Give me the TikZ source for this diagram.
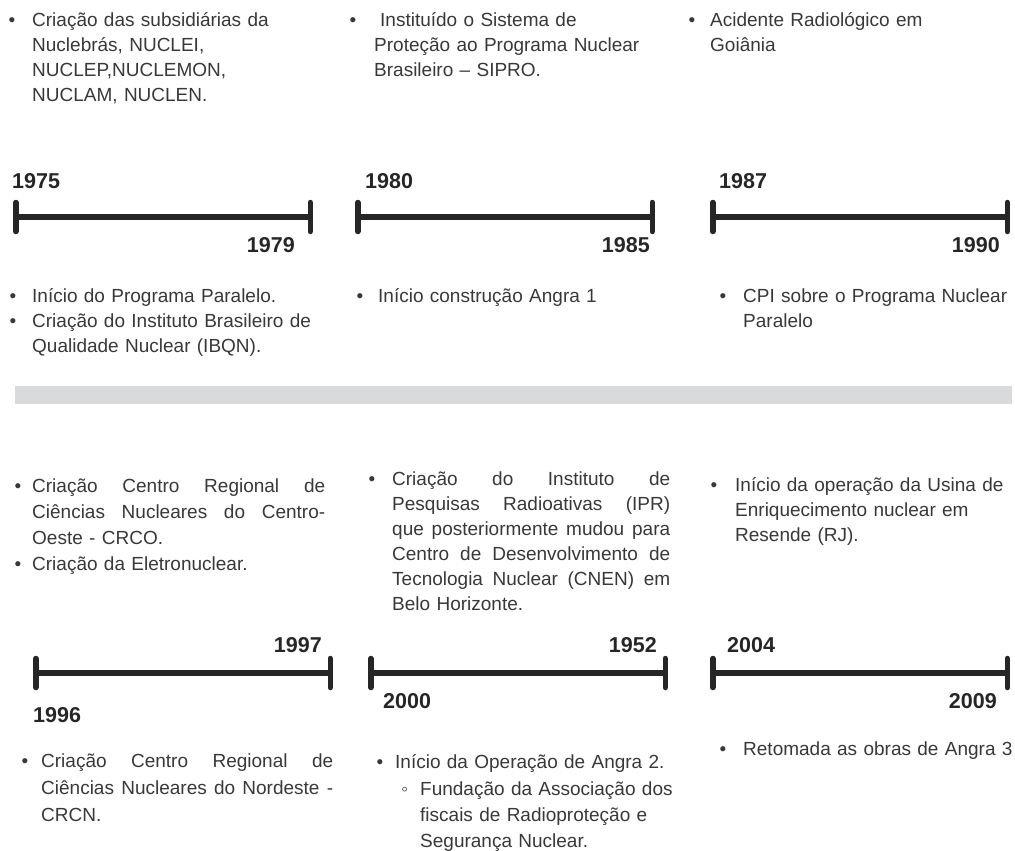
\documentclass[tikz,border=0pt]{standalone}
\usepackage{fontspec}
\setmainfont{Liberation Sans}
\usetikzlibrary{arrows.meta}
\definecolor{TextGray}{HTML}{383838}
\definecolor{YearBlack}{HTML}{262626}
\definecolor{BarGray}{HTML}{D9DADB}
\newcommand\bul[1]{\leavevmode\llap{\textbullet\hspace{#1}}}
\newcommand\subbul[1]{\leavevmode\llap{\char"25E6\hspace{#1}}}
\newcommand\jl[2]{{\spaceskip=0.278em plus 1fil\xspaceskip=\spaceskip\makebox[#1][s]{#2}}}
\tikzstyle{evt} = [anchor=base west, inner sep=0pt, text=TextGray, align=left, text width=320pt, font=\fontsize{19}{25}\selectfont]
\tikzstyle{yr} = [inner sep=0pt, text=YearBlack, font=\fontsize{21.5}{24}\selectfont\bfseries]
\tikzstyle{yl} = [yr, anchor=base west]
\tikzstyle{yrr} = [yr, anchor=base east]
\tikzstyle{tl} = [line width=5.5pt, draw=YearBlack, {Bar[width=29pt,round]}-{Bar[width=29pt,round]}]

\begin{document}
\begin{tikzpicture}[x=1pt, y=-1pt]
\useasboundingbox (0,0) rectangle (1015,851);
% top row
\node[evt] (subs) at (32,27) {\bul{17pt}Criação das subsidiárias da\\Nuclebrás, NUCLEI,\\NUCLEP,NUCLEMON,\\NUCLAM, NUCLEN.};
\node[evt] (sipro) at (374,27) {\bul{18pt}\hspace{6pt}Instituído o Sistema de\\Proteção ao Programa Nuclear\\Brasileiro – SIPRO.};
\node[evt] (goiania) at (710,27) {\bul{15pt}Acidente Radiológico em\\Goiânia};
\node[yl] (y1975) at (12,188) {1975};
\node[yrr] (y1979) at (295,252) {1979};
\node[yl] (y1980) at (365,188) {1980};
\node[yrr] (y1985) at (650,252) {1985};
\node[yl] (y1987) at (719,188) {1987};
\node[yrr] (y1990) at (1000,252) {1990};
\coordinate (a1) at (13,217);
\coordinate (b1) at (313,217);
\coordinate (a2) at (355,217);
\coordinate (b2) at (655,217);
\coordinate (a3) at (710,217);
\coordinate (b3) at (1010,217);
\draw[tl] (a1) -- (b1);
\draw[tl] (a2) -- (b2);
\draw[tl] (a3) -- (b3);
\node[evt] (paralelo) at (32,302) {\bul{16pt}Início do Programa Paralelo.};
\node[evt] (ibqn) at (32,327) {\bul{16pt}Criação do Instituto Brasileiro de\\Qualidade Nuclear (IBQN).};
\node[evt] (angra1) at (378,302) {\bul{15pt}Início construção Angra 1};
\node[evt] (cpi) at (743,302) {\bul{17pt}CPI sobre o Programa Nuclear\\Paralelo};
% separator
\fill[BarGray] (15,386) rectangle (1012,404);
% bottom row
\node[evt, font=\fontsize{19}{26}\selectfont] (crco) at (32,492) {\bul{11pt}\jl{293pt}{Criação Centro Regional de}\\\jl{293pt}{Ciências Nucleares do Centro-}\\Oeste - CRCO.};
\node[evt] (eletro) at (32,570) {\bul{11pt}Criação da Eletronuclear.};
\node[evt] (ipr) at (392,485) {\bul{17pt}\jl{278pt}{Criação do Instituto de}\\\jl{278pt}{Pesquisas Radioativas (IPR)}\\\jl{278pt}{que posteriormente mudou para}\\\jl{278pt}{Centro de Desenvolvimento de}\\\jl{278pt}{Tecnologia Nuclear (CNEN) em}\\Belo Horizonte.};
\node[evt] (usina) at (735,491) {\bul{18pt}Início da operação da Usina de\\Enriquecimento nuclear em\\Resende (RJ).};
\node[yrr] (y1997) at (322,652) {1997};
\node[yl] (y1996) at (33,722) {1996};
\node[yrr] (y1952) at (657,652) {1952};
\node[yl] (y2000) at (383,708) {2000};
\node[yl] (y2004) at (727,652) {2004};
\node[yrr] (y2009) at (997,708) {2009};
\coordinate (a4) at (33,673);
\coordinate (b4) at (333,673);
\coordinate (a5) at (368,673);
\coordinate (b5) at (668,673);
\coordinate (a6) at (710,673);
\coordinate (b6) at (1010,673);
\draw[tl] (a4) -- (b4);
\draw[tl] (a5) -- (b5);
\draw[tl] (a6) -- (b6);
\node[evt, font=\fontsize{19}{27}\selectfont] (crcn) at (41,767) {\bul{13pt}\jl{292pt}{Criação Centro Regional de}\\\jl{292pt}{Ciências Nucleares do Nordeste -}\\CRCN.};
\node[evt] (angra2) at (395,768) {\bul{12pt}Início da Operação de Angra 2.};
\node[evt, font=\fontsize{19}{26}\selectfont] (afrsn) at (420,795) {\subbul{12pt}Fundação da Associação dos\\fiscais de Radioproteção e\\Segurança Nuclear.};
\node[evt] (angra3) at (743,755) {\bul{17pt}Retomada as obras de Angra 3};
\end{tikzpicture}
\end{document}
